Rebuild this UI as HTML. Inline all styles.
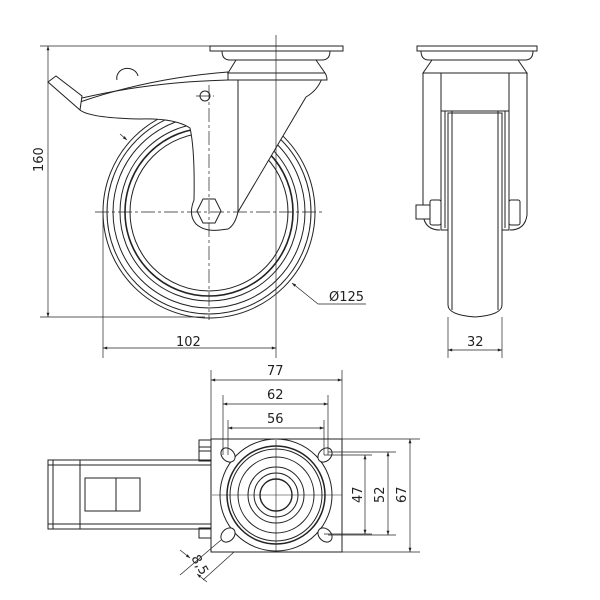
<!DOCTYPE html>
<html><head><style>body{margin:0;background:#fff}svg{display:block}text{font-family:"DejaVu Sans","Liberation Sans",sans-serif;font-size:13px;fill:#222}</style></head><body>
<svg width="600" height="600" viewBox="0 0 600 600" xmlns="http://www.w3.org/2000/svg">
<defs><marker id="a" viewBox="0 0 10 10" refX="10" refY="5" markerWidth="8" markerHeight="6" orient="auto-start-reverse"><path d="M0,1.5 L10,5 L0,8.5z" fill="#222"/></marker></defs>
<g fill="none" stroke="#222" stroke-width="1">
<!-- side view -->
<circle cx="209" cy="212" r="106"/><circle cx="209" cy="212" r="102"/><circle cx="209" cy="212" r="96"/><circle cx="209" cy="212" r="89"/><circle cx="209" cy="212" r="84" stroke-width="1.6"/><circle cx="209" cy="212" r="79"/>
<path d="M117,80 a10,9 0 0 1 21,-4" fill="#fff"/>
<path d="M80,102 Q150,78 228,72 L228,80 L238,80" fill="#fff"/>
<path d="M48,82 L56,76 L82,96 L80,110 Z" fill="#fff"/>
<path d="M82,98 Q150,82 228,80" />
<path d="M80,110 Q90,118 140,119 Q175,118 190,128 Q195,150 194,200 Q188,215 196,224 Q205,232 220,230 L228,229 Q235,225 238,212 L306,97 Q318,90 322,78" fill="#fff"/>
<line x1="238" y1="80" x2="238" y2="212"/>
<path d="M210,46 H343 V51 H210 Z M222,51 H330 Q330,60 322,60 H230 Q222,60 222,51 M236,60 L228,73 H325 L316,60 M228,73 V80 H327 Q327,76 325,73" fill="#fff"/>
<polygon points="203,199 215,199 221,211 215,223 203,223 197,211" fill="#fff"/>
<circle cx="205" cy="96" r="5"/>
<g stroke-dasharray="14,3,3,3" stroke-width=".7"><line x1="95" y1="212" x2="322" y2="212"/><line x1="209" y1="85" x2="209" y2="320"/><line x1="196" y1="96" x2="214" y2="96"/></g>
<line x1="276" y1="35" x2="276" y2="358" stroke-width=".7"/>
<g stroke-width=".7"><line x1="40" y1="46" x2="210" y2="46"/><line x1="40" y1="317" x2="205" y2="317"/><line x1="48" y1="46" x2="48" y2="317" marker-start="url(#a)" marker-end="url(#a)"/>
<line x1="103" y1="215" x2="103" y2="358"/><line x1="103" y1="348" x2="276" y2="348" marker-start="url(#a)" marker-end="url(#a)"/>
<line x1="318" y1="304" x2="292" y2="283" marker-end="url(#a)"/><line x1="318" y1="304" x2="366" y2="304"/>
<line x1="120" y1="134" x2="127" y2="140" marker-end="url(#a)"/></g>
<!-- front view -->
<path d="M417,46 H537 V51 H417 Z M421,51 H533 Q533,60 525,60 H429 Q421,60 421,51 M432,60 L423,73 H527 L518,60" fill="#fff"/>
<path d="M423,73 V215 Q425,230 440,230 M527,73 V215 Q525,230 510,230"/>
<rect x="441" y="73" width="68" height="38" fill="#fff"/>
<path d="M448,113 V305 Q448,315 475,317 Q502,315 502,305 V113 Z" fill="#fff"/>
<path d="M441,111 V230 H448 M509,111 V230 H502 M445,111 V228 M505,111 V228 M452,111 V310 M498,111 V310"/>
<rect x="430" y="200" width="11" height="25" rx="2" fill="#fff"/><rect x="509" y="200" width="11" height="25" rx="2" fill="#fff"/><rect x="416" y="205" width="14" height="14" fill="#fff"/>
<g stroke-width=".7"><line x1="448" y1="317" x2="448" y2="358"/><line x1="502" y1="317" x2="502" y2="358"/><line x1="448" y1="350" x2="502" y2="350" marker-start="url(#a)" marker-end="url(#a)"/></g>
<!-- top view -->
<rect x="48" y="460" width="163" height="69" fill="#fff"/><line x1="48" y1="465" x2="211" y2="465"/><line x1="48" y1="524" x2="211" y2="524"/>
<rect x="48" y="460" width="32" height="69"/><line x1="53" y1="460" x2="53" y2="529"/>
<rect x="85" y="478" width="55" height="33"/><line x1="116" y1="478" x2="116" y2="511"/>
<rect x="199" y="440" width="12" height="11"/><rect x="199" y="447" width="12" height="14"/><rect x="199" y="528" width="12" height="10"/>
<rect x="211" y="439" width="131" height="113" fill="#fff"/>
<circle cx="276" cy="495" r="56"/><circle cx="276" cy="495" r="49" stroke-width="1.5"/><circle cx="276" cy="495" r="46"/><circle cx="276" cy="495" r="38"/><circle cx="276" cy="495" r="28"/><circle cx="276" cy="495" r="22"/><circle cx="276" cy="495" r="16" stroke-width="1.4"/>
<g fill="#fff"><ellipse cx="228" cy="455" rx="8" ry="6" transform="rotate(45 228 455)"/><ellipse cx="325" cy="455" rx="8" ry="6" transform="rotate(-45 325 455)"/><ellipse cx="228" cy="535" rx="8" ry="6" transform="rotate(-45 228 535)"/><ellipse cx="325" cy="535" rx="8" ry="6" transform="rotate(45 325 535)"/></g>
<g stroke-width=".6"><line x1="276" y1="440" x2="276" y2="552"/><line x1="212" y1="495" x2="342" y2="495"/></g>
<g stroke-width=".7">
<line x1="211" y1="370" x2="211" y2="439"/><line x1="342" y1="370" x2="342" y2="439"/><line x1="211" y1="380" x2="342" y2="380" marker-start="url(#a)" marker-end="url(#a)"/>
<line x1="223" y1="395" x2="223" y2="455"/><line x1="328" y1="395" x2="328" y2="455"/><line x1="223" y1="404" x2="328" y2="404" marker-start="url(#a)" marker-end="url(#a)"/>
<line x1="228" y1="420" x2="228" y2="455"/><line x1="324" y1="420" x2="324" y2="455"/><line x1="228" y1="428" x2="324" y2="428" marker-start="url(#a)" marker-end="url(#a)"/>
<line x1="342" y1="439" x2="420" y2="439"/><line x1="342" y1="552" x2="420" y2="552"/><line x1="410" y1="439" x2="410" y2="552" marker-start="url(#a)" marker-end="url(#a)"/>
<line x1="328" y1="452" x2="396" y2="452"/><line x1="328" y1="535" x2="396" y2="535"/><line x1="388" y1="452" x2="388" y2="535" marker-start="url(#a)" marker-end="url(#a)"/>
<line x1="324" y1="455" x2="372" y2="455"/><line x1="324" y1="534" x2="372" y2="534"/><line x1="365" y1="455" x2="365" y2="534" marker-start="url(#a)" marker-end="url(#a)"/>
<line x1="221" y1="540" x2="180" y2="575"/><line x1="234" y1="552" x2="203" y2="580"/>
<line x1="180" y1="550" x2="190" y2="558" marker-end="url(#a)"/><line x1="207" y1="582" x2="197" y2="574" marker-end="url(#a)"/>
</g></g>
<text x="176" y="346">102</text>
<text x="329" y="301">Ø125</text>
<text x="467" y="346">32</text>
<text x="267" y="375">77</text><text x="267" y="399">62</text><text x="267" y="423">56</text>
<text transform="translate(43,172) rotate(-90)">160</text>
<text transform="translate(362,503) rotate(-90)">47</text>
<text transform="translate(384,503) rotate(-90)">52</text>
<text transform="translate(406,503) rotate(-90)">67</text>
<text transform="translate(191,558) rotate(60)">8,5</text>
</svg>
</body></html>
